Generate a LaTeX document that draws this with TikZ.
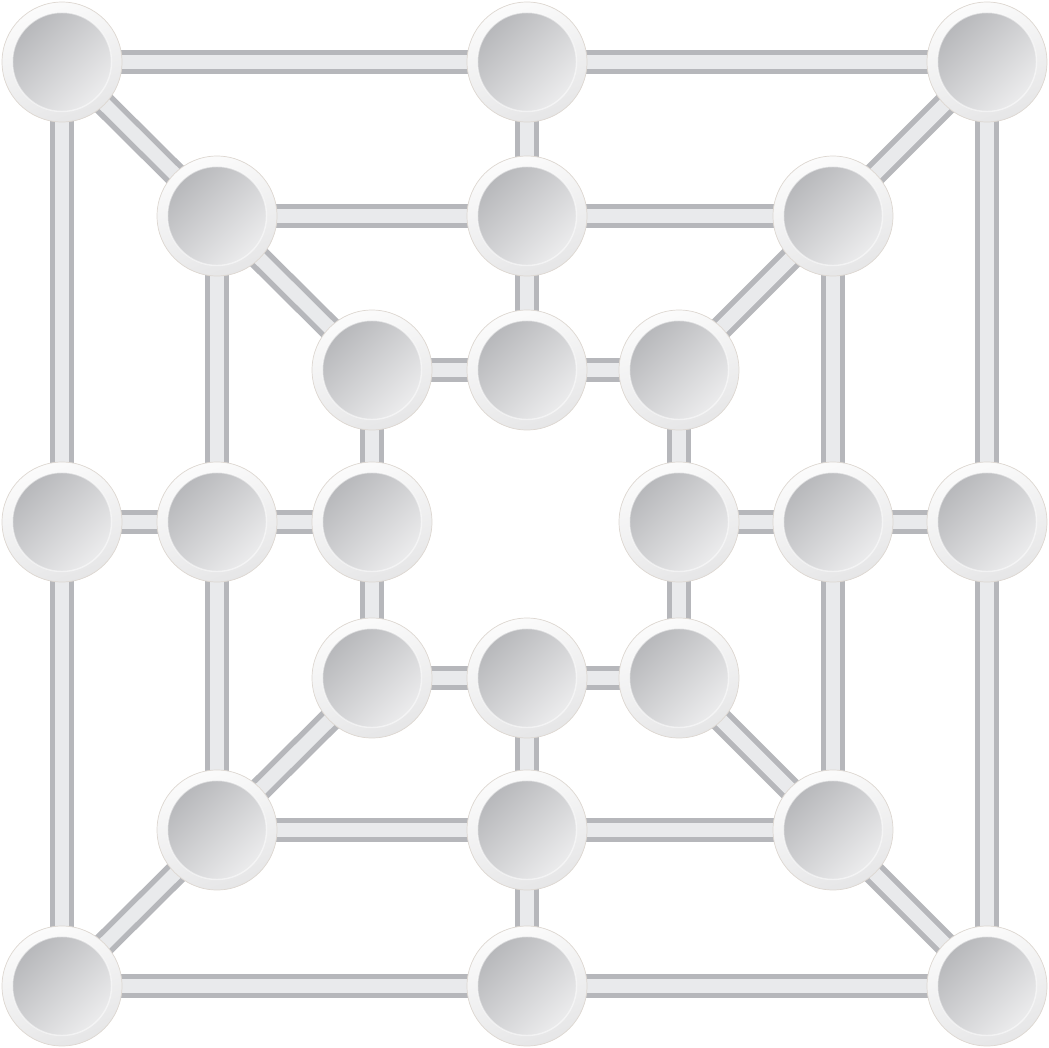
\documentclass[tikz,border=0pt]{standalone}
\usepackage{tikz}
\usetikzlibrary{backgrounds}
\definecolor{baredge}{HTML}{B6B7BB}
\definecolor{barfill}{HTML}{E9EAEC}
\definecolor{rimedge}{HTML}{DDD7D1}
\definecolor{rimlight}{HTML}{FBFBFB}
\definecolor{rimdark}{HTML}{E6E6E7}
\definecolor{discdark}{HTML}{B2B3B6}
\definecolor{disclight}{HTML}{F1F1F2}

\begin{document}
\begin{tikzpicture}[x=0.02cm,y=-0.02cm,
  spot/.style={circle,minimum size=2.4cm,inner sep=0pt,draw=rimedge,line width=.4pt,
    top color=rimlight,bottom color=rimdark,shading angle=20,
    path picture={\shade[top color=discdark,bottom color=disclight,shading angle=45]
      (path picture bounding box.center) circle (0.99cm);
      \draw[white,opacity=.5,line width=.8pt] (path picture bounding box.center) circle (0.99cm);}},
  bar/.style={draw=baredge,double=barfill,double distance=0.27cm,line width=0.11cm,line join=round}]
\useasboundingbox (0,0) rectangle (1049,1048);
% outer square
\node[spot] (otl) at (62,62) {};
\node[spot] (otc) at (527,62) {};
\node[spot] (otr) at (987,62) {};
\node[spot] (ocl) at (62,522) {};
\node[spot] (ocr) at (987,522) {};
\node[spot] (obl) at (62,986) {};
\node[spot] (obc) at (527,986) {};
\node[spot] (obr) at (987,986) {};
% middle square
\node[spot] (mtl) at (217,216) {};
\node[spot] (mtc) at (527,216) {};
\node[spot] (mtr) at (833,216) {};
\node[spot] (mcl) at (217,522) {};
\node[spot] (mcr) at (833,522) {};
\node[spot] (mbl) at (217,830) {};
\node[spot] (mbc) at (527,830) {};
\node[spot] (mbr) at (833,830) {};
% inner square
\node[spot] (itl) at (372,370) {};
\node[spot] (itc) at (527,370) {};
\node[spot] (itr) at (679,370) {};
\node[spot] (icl) at (372,522) {};
\node[spot] (icr) at (679,522) {};
\node[spot] (ibl) at (372,678) {};
\node[spot] (ibc) at (527,678) {};
\node[spot] (ibr) at (679,678) {};
\begin{scope}[on background layer]
\draw[bar] (otl.center)--(otc.center)--(otr.center)--(ocr.center)--(obr.center)--(obc.center)--(obl.center)--(ocl.center)--cycle;
\draw[bar] (mtl.center)--(mtc.center)--(mtr.center)--(mcr.center)--(mbr.center)--(mbc.center)--(mbl.center)--(mcl.center)--cycle;
\draw[bar] (itl.center)--(itc.center)--(itr.center)--(icr.center)--(ibr.center)--(ibc.center)--(ibl.center)--(icl.center)--cycle;
\draw[bar] (otc.center)--(itc.center);
\draw[bar] (obc.center)--(ibc.center);
\draw[bar] (ocl.center)--(icl.center);
\draw[bar] (ocr.center)--(icr.center);
\draw[bar] (otl.center)--(itl.center);
\draw[bar] (otr.center)--(itr.center);
\draw[bar] (obl.center)--(ibl.center);
\draw[bar] (obr.center)--(ibr.center);
\end{scope}
\end{tikzpicture}
\end{document}
